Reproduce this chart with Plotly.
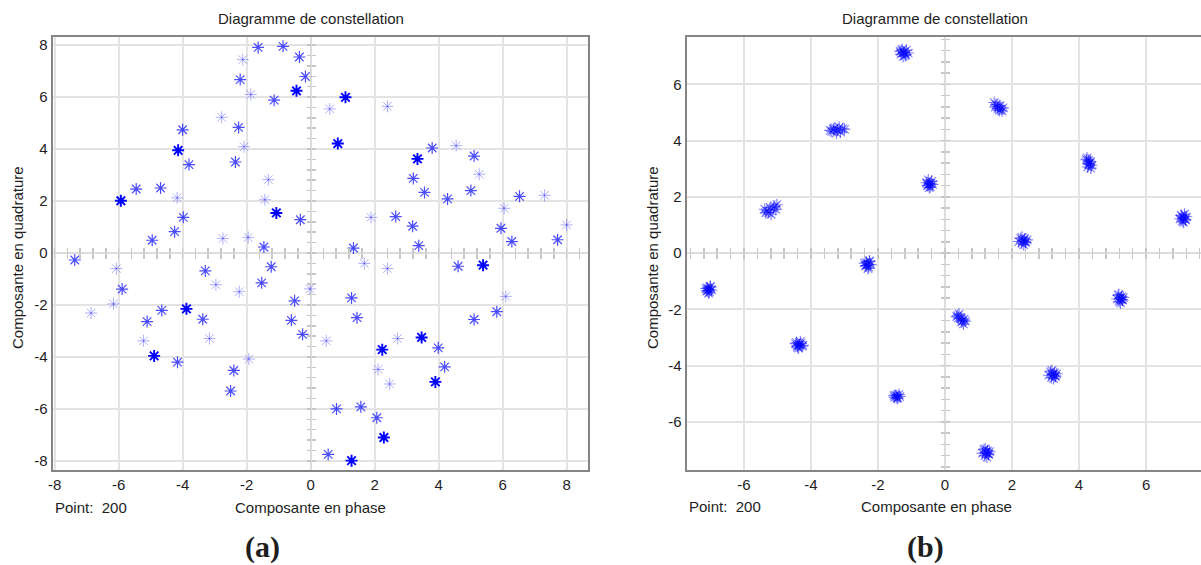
import plotly.graph_objects as go

# ---------------- data: panel (a) ----------------
a_i = [-7.37, -6.07, -5.93, -5.45, -4.69, -4.95, -4.25, -4.17, -3.98, -4.14,
       -4.00, -3.80, -2.78, -2.74, -2.25, -2.35, -2.08, -1.95, -2.20, -2.12,
       -1.87, -1.64, -1.14, -0.86, -0.35, -0.44, -0.16, -1.32, -1.43, -1.07,
       -0.32, -1.46, -1.23, -3.29, 0.60, 1.09, 0.85, 2.40, 1.89, 1.34,
       1.68, 2.40, 2.66, 3.19, 3.38, 3.21, 3.34, 3.56, 3.80, 4.28,
       4.55, 5.01, 5.11, 5.27, 4.61, 5.39, 5.95, 6.05, 6.29, 6.53,
       7.31, 7.72, 8.00, -6.86, -6.16, -5.89, -5.11, -5.22, -4.89, -4.65,
       -4.16, -3.88, -3.37, -3.16, -2.96, -2.40, -2.50, -2.23, -1.93, -1.53,
       -0.50, -0.60, -0.25, -0.02, 0.49, 1.28, 1.45, 0.81, 0.55, 1.28,
       1.57, 2.07, 2.29, 2.11, 2.24, 2.47, 2.72, 3.47, 3.99, 4.19,
       3.90, 5.11, 5.82, 6.10]
a_q = [-0.27, -0.60, 2.01, 2.46, 2.50, 0.49, 0.82, 2.12, 1.37, 3.95,
       4.74, 3.40, 5.22, 0.56, 4.83, 3.50, 4.09, 0.60, 6.67, 7.44,
       6.10, 7.91, 5.88, 7.95, 7.54, 6.24, 6.79, 2.82, 2.05, 1.54,
       1.28, 0.23, -0.53, -0.69, 5.54, 5.99, 4.21, 5.64, 1.37, 0.19,
       -0.40, -0.60, 1.40, 1.03, 0.28, 2.87, 3.62, 2.33, 4.04, 2.08,
       4.13, 2.40, 3.73, 3.03, -0.51, -0.47, 0.95, 1.72, 0.44, 2.18,
       2.22, 0.51, 1.08, -2.31, -1.96, -1.39, -2.64, -3.38, -3.96, -2.21,
       -4.20, -2.15, -2.55, -3.29, -1.22, -4.52, -5.31, -1.49, -4.08, -1.15,
       -1.84, -2.59, -3.13, -1.38, -3.38, -1.73, -2.49, -6.00, -7.75, -7.99,
       -5.92, -6.34, -7.10, -4.48, -3.72, -5.04, -3.29, -3.25, -3.65, -4.38,
       -4.96, -2.56, -2.26, -1.67]
# symbol intensity: 0 faint, 1 normal, 2 dark
a_level = [1, 0, 2, 1, 1, 1, 1, 0, 1, 2,
           1, 1, 0, 0, 1, 1, 0, 0, 1, 0,
           0, 1, 1, 1, 1, 2, 1, 0, 0, 2,
           1, 1, 1, 1, 0, 2, 2, 0, 0, 1,
           0, 0, 1, 1, 1, 1, 2, 1, 1, 1,
           0, 1, 1, 0, 1, 2, 1, 0, 1, 1,
           0, 1, 0, 0, 0, 1, 1, 0, 2, 1,
           1, 2, 1, 0, 0, 1, 1, 0, 0, 1,
           1, 1, 1, 0, 0, 1, 1, 1, 1, 2,
           1, 1, 2, 0, 2, 0, 0, 2, 1, 1,
           2, 1, 1, 0]

# ---------------- data: panel (b) ----------------
b_i = [-1.23, -1.15, -1.31, -1.19, -1.28, -1.10, -1.34, -1.25, -1.17, -1.29,
       -3.21, -3.38, -3.05, -3.29, -3.12, -3.43, -3.00, -3.24, -3.16, -3.33,
       -5.32, -5.38, -5.26, -5.35, -5.08, -5.02, -5.12, -5.05, -5.19, -5.22,
       -0.46, -0.40, -0.52, -0.44, -0.50, -0.37, -0.55, -0.47, -0.42, -0.49,
       -2.31, -2.25, -2.37, -2.28, -2.35, -2.22, -2.40, -2.30, -2.26, -2.34,
       1.52, 1.47, 1.57, 1.50, 1.67, 1.73, 1.62, 1.70, 1.58, 1.64,
       2.33, 2.26, 2.41, 2.29, 2.38, 2.20, 2.45, 2.35, 2.30, 2.39,
       4.28, 4.24, 4.34, 4.30, 4.37, 4.26, 4.33, 4.22, 4.35, 4.29,
       7.11, 7.05, 7.18, 7.08, 7.15, 7.02, 7.20, 7.12, 7.07, 7.16,
       -7.05, -7.00, -7.11, -7.03, -7.09, -6.97, -7.13, -7.06, -7.01, -7.08,
       -4.35, -4.43, -4.27, -4.40, -4.30, -4.46, -4.24, -4.37, -4.32, -4.41,
       -1.44, -1.38, -1.50, -1.41, -1.47, -1.35, -1.52, -1.43,
       0.38, 0.42, 0.35, 0.40, 0.53, 0.57, 0.50, 0.55, 0.48, 0.60,
       3.22, 3.15, 3.30, 3.18, 3.27, 3.10, 3.33, 3.24, 3.19, 3.28,
       5.23, 5.17, 5.30, 5.20, 5.27, 5.14, 5.32, 5.24, 5.19, 5.28,
       1.23, 1.16, 1.30, 1.19, 1.27, 1.12, 1.33, 1.25, 1.20, 1.29]
b_q = [7.13, 7.21, 7.07, 7.02, 7.24, 7.11, 7.17, 6.99, 7.06, 7.19,
       4.38, 4.33, 4.42, 4.45, 4.30, 4.36, 4.40, 4.27, 4.47, 4.41,
       1.50, 1.56, 1.44, 1.43, 1.66, 1.72, 1.60, 1.55, 1.38, 1.62,
       2.46, 2.55, 2.40, 2.36, 2.60, 2.44, 2.50, 2.33, 2.48, 2.42,
       -0.39, -0.30, -0.45, -0.50, -0.33, -0.41, -0.36, -0.55, -0.28, -0.44,
       5.28, 5.35, 5.22, 5.19, 5.12, 5.16, 5.07, 5.05, 5.14, 5.24,
       0.44, 0.52, 0.38, 0.35, 0.50, 0.41, 0.47, 0.30, 0.56, 0.40,
       3.30, 3.38, 3.25, 3.18, 3.12, 3.06, 3.21, 3.32, 3.02, 3.14,
       1.25, 1.34, 1.18, 1.14, 1.38, 1.22, 1.29, 1.10, 1.31, 1.20,
       -1.29, -1.21, -1.35, -1.38, -1.24, -1.31, -1.26, -1.42, -1.18, -1.33,
       -3.26, -3.18, -3.31, -3.34, -3.21, -3.22, -3.28, -3.38, -3.15, -3.30,
       -5.09, -5.03, -5.13, -5.15, -5.05, -5.10, -5.07, -5.16,
       -2.22, -2.17, -2.26, -2.30, -2.40, -2.35, -2.45, -2.52, -2.33, -2.42,
       -4.32, -4.22, -4.38, -4.42, -4.26, -4.34, -4.29, -4.46, -4.18, -4.36,
       -1.61, -1.51, -1.67, -1.72, -1.55, -1.63, -1.58, -1.77, -1.47, -1.65,
       -7.09, -6.99, -7.15, -7.20, -7.03, -7.11, -7.06, -7.25, -6.96, -7.13]

a_ticks = [-8, -6, -4, -2, 0, 2, 4, 6, 8]
b_ticks = [-6, -4, -2, 0, 2, 4, 6]
title_txt = "Diagramme de constellation"
xlab = "Composante en phase"
ylab = "Composante en quadrature"
point_txt = "Point:  200"

# ---------------- layout geometry ----------------
W, H = 1201, 565
FONT = "Liberation Sans, Arial, sans-serif"
SERIF = "Liberation Serif, Times New Roman, serif"
TXT = "#1e1e1e"
BLUE = "#0000ff"


def fx(p):
    return p / W


def fy(p):
    return 1 - p / H


L_XD = [fx(52.7), fx(588)]
R_XD = [fx(686.7), 1.0]
YD = [fy(470), fy(37)]
L_XR = [-8.06, 8.67]
L_YR = [-8.35, 8.31]
R_XR = [-7.71, 7.64]
R_YR = [-7.71, 7.68]


def zero_pos(dom, rng):
    return dom[0] + (0 - rng[0]) / (rng[1] - rng[0]) * (dom[1] - dom[0])


def labels(vals):
    return [str(v) for v in vals]


fig = go.Figure()

op_map = {0: 0.32, 1: 0.7, 2: 1.0}
lw_map = {0: 1.0, 1: 1.2, 2: 1.9}
fig.add_trace(go.Scatter(
    x=a_i, y=a_q, mode="markers", xaxis="x", yaxis="y", showlegend=False,
    marker=dict(symbol="asterisk-open", size=10, color=BLUE,
                opacity=[op_map[v] for v in a_level],
                line=dict(color=BLUE, width=[lw_map[v] for v in a_level])),
    hoverinfo="skip"))

fig.add_trace(go.Scatter(
    x=b_i, y=b_q, mode="markers", xaxis="x2", yaxis="y2", showlegend=False,
    marker=dict(symbol="asterisk-open", size=10, opacity=0.5, color=BLUE,
                line=dict(color=BLUE, width=1.1)),
    hoverinfo="skip"))

# dummy traces to realise the centre (crosshair) axes
for xa, ya in [("x3", "y3"), ("x4", "y4"), ("x5", "y5"), ("x6", "y6")]:
    fig.add_trace(go.Scatter(x=[None], y=[None], xaxis=xa, yaxis=ya,
                             mode="markers", showlegend=False, hoverinfo="skip"))

base_ax = dict(showgrid=True, gridcolor="#e3e3e3", gridwidth=2,
               zeroline=True, zerolinecolor="#dcdcdc", zerolinewidth=2,
               showline=True, mirror=True, linecolor="#858585", linewidth=2,
               ticks="", tickfont=dict(family=FONT, size=15, color=TXT),
               fixedrange=True, automargin=False)

center_ax = dict(showgrid=False, zeroline=False, showline=False,
                 showticklabels=False, tick0=0, dtick=0.4,
                 tickcolor="#c6c6c6", tickwidth=1.5, fixedrange=True,
                 automargin=False)

layout = dict(
    width=W, height=H, margin=dict(l=0, r=0, t=0, b=0, autoexpand=False),
    paper_bgcolor="white", plot_bgcolor="white", showlegend=False,
    xaxis=dict(base_ax, domain=L_XD, range=L_XR, tickvals=a_ticks,
               ticktext=labels(a_ticks), anchor="y"),
    yaxis=dict(base_ax, domain=YD, range=L_YR, tickvals=a_ticks,
               ticktext=labels(a_ticks), anchor="x"),
    xaxis2=dict(base_ax, domain=R_XD, range=R_XR, tickvals=b_ticks,
                ticktext=labels(b_ticks), anchor="y2"),
    yaxis2=dict(base_ax, domain=YD, range=R_YR, tickvals=b_ticks,
                ticktext=labels(b_ticks), anchor="x2"),
    # centre axes of panel (a)
    xaxis3=dict(center_ax, overlaying="x", anchor="free", range=L_XR,
                position=zero_pos(YD, L_YR), ticks="outside", ticklen=5, side="bottom"),
    yaxis3=dict(center_ax, overlaying="y", anchor="free", range=L_YR,
                position=zero_pos(L_XD, L_XR), ticks="outside", ticklen=4, side="left"),
    xaxis4=dict(center_ax, overlaying="x", anchor="free", range=L_XR,
                position=zero_pos(YD, L_YR), ticks="inside", ticklen=5, side="bottom"),
    yaxis4=dict(center_ax, overlaying="y", anchor="free", range=L_YR,
                position=zero_pos(L_XD, L_XR), ticks="inside", ticklen=4, side="left"),
    # centre axes of panel (b)
    xaxis5=dict(center_ax, overlaying="x2", anchor="free", range=R_XR,
                position=zero_pos(YD, R_YR), ticks="outside", ticklen=5, side="bottom"),
    yaxis5=dict(center_ax, overlaying="y2", anchor="free", range=R_YR,
                position=zero_pos(R_XD, R_XR), ticks="outside", ticklen=4, side="left"),
    xaxis6=dict(center_ax, overlaying="x2", anchor="free", range=R_XR,
                position=zero_pos(YD, R_YR), ticks="inside", ticklen=5, side="bottom"),
    yaxis6=dict(center_ax, overlaying="y2", anchor="free", range=R_YR,
                position=zero_pos(R_XD, R_XR), ticks="inside", ticklen=4, side="left"),
)
fig.update_layout(**layout)

ann = []


def add_text(text, x, y, size=15, xanchor="center", angle=0, family=FONT):
    ann.append(dict(text=text, x=fx(x), y=fy(y), xref="paper", yref="paper",
                    xanchor=xanchor, yanchor="middle", showarrow=False,
                    textangle=angle, font=dict(family=family, size=size, color=TXT)))


add_text(title_txt, 310.6, 19, size=15)
add_text(title_txt, 935, 19, size=15)
add_text(ylab, 17, 258, angle=-90)
add_text(ylab, 652, 258, angle=-90)
add_text(xlab, 310, 507)
add_text(xlab, 936, 506)
add_text(point_txt, 53, 507, xanchor="left")
add_text(point_txt, 687, 506, xanchor="left")
add_text("<b>(a)</b>", 262.5, 547, size=30, family=SERIF)
add_text("<b>(b)</b>", 925, 547, size=30, family=SERIF)
fig.update_layout(annotations=ann)

fig.write_html("out.html",
               config={"displayModeBar": False, "staticPlot": True},
               post_script="document.body.style.margin='0px';"
                           "document.body.style.overflow='hidden';")
